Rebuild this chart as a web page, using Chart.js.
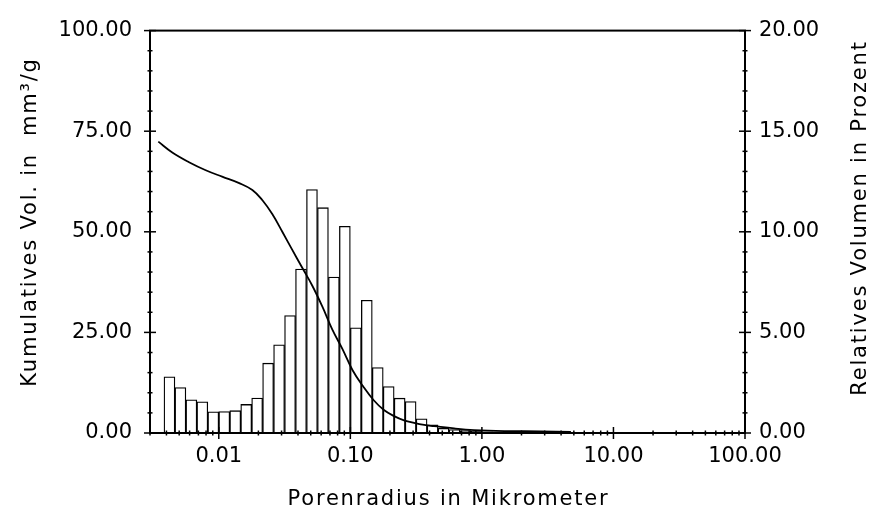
<!DOCTYPE html>
<html>
<head>
<meta charset="utf-8">
<script src="https://cdn.jsdelivr.net/npm/chart.js@4.4.1/dist/chart.umd.min.js"></script>
<style>
  html, body { margin: 0; padding: 0; background: #fff; }
  #wrap { width: 874px; height: 511px; }
</style>
</head>
<body>
<div id="wrap"><canvas id="c" width="874" height="511"></canvas></div>
<script>
// Histogram bins (pore radius, micrometer) and relative volume (%)
const binCenters = [0.004217, 0.005109, 0.006190, 0.007499, 0.009085, 0.01101, 0.01334, 0.01616,
  0.01957, 0.02371, 0.02873, 0.03481, 0.04217, 0.05109, 0.06190, 0.07499, 0.09085, 0.1101,
  0.1334, 0.1616, 0.1957, 0.2371, 0.2873, 0.3481, 0.4217, 0.5109, 0.6190, 0.7499, 0.9085, 1.101, 1.334];
const relVolume = [2.79, 2.26, 1.65, 1.55, 1.05, 1.07, 1.11, 1.42,
  1.74, 3.47, 4.38, 5.84, 8.15, 12.10, 11.20, 7.75, 10.27, 5.23,
  6.60, 3.25, 2.31, 1.73, 1.56, 0.71, 0.40, 0.23, 0.17, 0.12, 0.08, 0.06, 0.05];

// Cumulative curve (pore radius, micrometer) and cumulative volume (mm^3/g)
const curveRadius = [0.00347, 0.00443, 0.00594, 0.00796, 0.0106, 0.0143, 0.0180, 0.0214, 0.0255,
  0.0304, 0.0362, 0.0432, 0.0514, 0.0613, 0.0730, 0.0870, 0.104, 0.125, 0.150, 0.180, 0.215,
  0.256, 0.305, 0.364, 0.433, 0.615, 0.873, 1.48, 2.81, 4.75];
const cumVolume = [72.4, 69.7, 67.3, 65.3, 63.7, 62.1, 60.4, 57.9, 54.4,
  50.0, 45.5, 41.0, 36.6, 31.4, 25.7, 20.9, 15.6, 11.6, 8.2, 5.7, 4.2,
  3.15, 2.5, 2.0, 1.7, 1.13, 0.73, 0.48, 0.40, 0.25];

// Tick labels
const xTicks = [0.01, 0.1, 1, 10, 100];
const yLeftTicks = [0, 25, 50, 75, 100];
const yRightTicks = [0, 5, 10, 15, 20];

const xTitle = 'Porenradius in Mikrometer';
const yLeftTitle = 'Kumulatives Vol. in  mm\u00B3/g';
const yRightTitle = 'Relatives Volumen in Prozent';

const FONT = "'DejaVu Sans', sans-serif";
Chart.defaults.color = '#000';
Chart.defaults.font.family = FONT;

const frameAndTicks = {
  id: 'frameAndTicks',
  afterDraw(chart) {
    const { ctx, chartArea: a, scales } = chart;
    ctx.save();
    ctx.strokeStyle = '#000';
    ctx.lineCap = 'butt';
    ctx.lineWidth = 2;
    ctx.strokeRect(a.left, a.top, a.right - a.left, a.bottom - a.top);
    ctx.lineWidth = 1.5;
    const line = (x1, y1, x2, y2) => { ctx.beginPath(); ctx.moveTo(x1, y1); ctx.lineTo(x2, y2); ctx.stroke(); };
    const yl = scales.y;
    for (let v = yl.min; v <= yl.max + 1e-9; v += 5) {
      const p = yl.getPixelForValue(v);
      const L = yLeftTicks.includes(v) ? 6 : 2.5;
      line(a.left - L, p, a.left + L, p);
    }
    const yr = scales.y1;
    for (let v = yr.min; v <= yr.max + 1e-9; v += 1) {
      const p = yr.getPixelForValue(v);
      const L = yRightTicks.includes(v) ? 6 : 2.5;
      line(a.right - L, p, a.right + L, p);
    }
    const xs = scales.x;
    for (let e = -3; e <= 2; e++) {
      for (let m = 1; m <= 9; m++) {
        const v = m * Math.pow(10, e);
        if (v < xs.min * 0.999 || v > xs.max * 1.001) continue;
        const p = xs.getPixelForValue(v);
        const L = m === 1 ? 6 : 2.5;
        line(p, a.bottom - L, p, a.bottom + L);
      }
    }
    // axis titles
    ctx.fillStyle = '#000';
    ctx.font = "21px " + FONT;
    try { ctx.letterSpacing = '1.8px'; } catch (e) {}
    ctx.textAlign = 'center';
    ctx.textBaseline = 'alphabetic';
    ctx.fillText(xTitle, (a.left + a.right) / 2 + 1, 505);
    ctx.textBaseline = 'middle';
    ctx.save();
    ctx.translate(31, 222);
    ctx.rotate(-Math.PI / 2);
    ctx.fillText(yLeftTitle, 0, 0);
    ctx.restore();
    ctx.save();
    ctx.translate(861, 218);
    ctx.rotate(-Math.PI / 2);
    ctx.fillText(yRightTitle, 0, 0);
    ctx.restore();
    ctx.restore();
  }
};

const fmt2 = (v) => Number(v).toFixed(2);

new Chart(document.getElementById('c'), {
  type: 'bar',
  data: {
    datasets: [
      {
        type: 'line',
        label: 'Kumulatives Volumen',
        data: curveRadius.map((r, i) => ({ x: r, y: cumVolume[i] })),
        yAxisID: 'y',
        xAxisID: 'x',
        borderColor: '#000',
        borderWidth: 1.8,
        pointRadius: 0,
        fill: false,
        tension: 0.4,
        order: 0
      },
      {
        type: 'bar',
        label: 'Relatives Volumen',
        data: binCenters.map((r, i) => ({ x: r, y: relVolume[i] })),
        yAxisID: 'y1',
        xAxisID: 'x',
        backgroundColor: '#fff',
        borderColor: '#000',
        borderWidth: 1.3,
        barPercentage: 1.0,
        categoryPercentage: 1.0,
        grouped: false,
        order: 1
      }
    ]
  },
  options: {
    responsive: false,
    animation: false,
    devicePixelRatio: 1,
    layout: { autoPadding: false, padding: { top: 19, left: 0, right: 0, bottom: 0 } },
    plugins: { legend: { display: false }, tooltip: { enabled: false }, title: { display: false } },
    scales: {
      x: {
        type: 'logarithmic',
        position: 'bottom',
        min: 0.003,
        max: 100,
        grid: { display: false, drawTicks: false },
        border: { display: false },
        afterBuildTicks: (s) => { s.ticks = xTicks.map(v => ({ value: v })); },
        afterFit: (s) => { s.height = 78; },
        ticks: { autoSkip: false, maxRotation: 0, padding: 11, font: { size: 21 }, callback: (v) => fmt2(v) }
      },
      y: {
        type: 'linear',
        position: 'left',
        min: 0,
        max: 100,
        grid: { display: false, drawTicks: false },
        border: { display: false },
        afterBuildTicks: (s) => { s.ticks = yLeftTicks.map(v => ({ value: v })); },
        afterFit: (s) => { s.width = 150; },
        ticks: { padding: 18, font: { size: 21 }, callback: (v) => fmt2(v) }
      },
      y1: {
        type: 'linear',
        position: 'right',
        min: 0,
        max: 20,
        grid: { display: false, drawTicks: false },
        border: { display: false },
        afterBuildTicks: (s) => { s.ticks = yRightTicks.map(v => ({ value: v })); },
        afterFit: (s) => { s.width = 129; },
        ticks: { padding: 14, font: { size: 21 }, callback: (v) => fmt2(v) }
      }
    }
  },
  plugins: [frameAndTicks]
});
</script>
</body>
</html>
